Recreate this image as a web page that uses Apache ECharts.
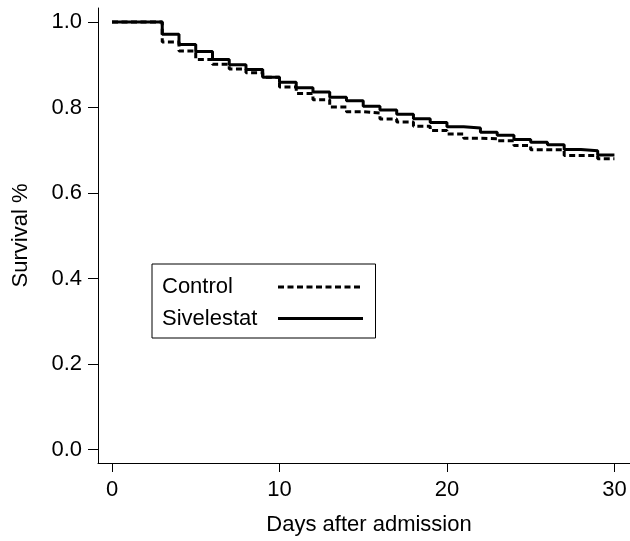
<!DOCTYPE html>
<html>
<head>
<meta charset="utf-8">
<script src="https://cdn.jsdelivr.net/npm/echarts@6/dist/echarts.min.js"></script>
<style>html,body{margin:0;padding:0;background:#fff}#c{width:630px;height:541px}</style>
</head>
<body>
<div id="c"></div>
<script>
var days = [0, 3, 4, 5, 6, 7, 8, 9, 10, 11, 12, 13, 14, 15, 16, 17, 18, 19, 20, 21, 22, 23, 24, 25, 26, 27, 28, 29, 30];
var sivelestat = [1.0, 0.971, 0.947, 0.931, 0.912, 0.900, 0.889, 0.871, 0.859, 0.846, 0.836, 0.824, 0.816, 0.803, 0.794, 0.784, 0.774, 0.765, 0.755, 0.752, 0.742, 0.735, 0.725, 0.719, 0.713, 0.702, 0.699, 0.689, 0.689];
var control = [1.0, 0.953, 0.932, 0.912, 0.901, 0.890, 0.881, 0.871, 0.848, 0.833, 0.818, 0.801, 0.790, 0.787, 0.773, 0.766, 0.756, 0.746, 0.738, 0.728, 0.727, 0.722, 0.711, 0.701, 0.701, 0.688, 0.688, 0.680, 0.680];
var xTicks = [0, 10, 20, 30];
var yTicks = [0.0, 0.2, 0.4, 0.6, 0.8, 1.0];

function pairs(v) { return days.map(function (d, i) { return [d, v[i]]; }); }

var FONT = 'Liberation Sans, Arial, sans-serif';
var FS = 22;
var chart = echarts.init(document.getElementById('c'), null, { renderer: 'canvas' });
chart.setOption({
  animation: false,
  backgroundColor: '#fff',
  grid: { left: 98, right: 0, top: 8, bottom: 77, containLabel: false },
  legend: {
    orient: 'vertical',
    left: 152, top: 264,
    align: 'right',
    borderColor: '#000', borderWidth: 1,
    padding: [12, 11, 8.5, 10],
    itemGap: 9.5,
    itemWidth: 85, itemHeight: 22,
    itemStyle: { opacity: 0 },
    lineStyle: { width: 3, color: '#000' },
    formatter: '{a|{name}}',
    textStyle: { fontFamily: FONT, fontSize: FS, color: '#000',
      rich: { a: { width: 111, fontFamily: FONT, fontSize: FS, color: '#000', align: 'left' } } },
    data: ['Control', 'Sivelestat']
  },
  xAxis: {
    type: 'value', min: -0.836, max: 30.93,
    name: 'Days after admission', nameLocation: 'middle', nameGap: 51,
    nameTextStyle: { fontFamily: FONT, fontSize: FS, color: '#000', padding: [0, 0, 0, 10] },
    axisLine: { show: true, onZero: false, lineStyle: { color: '#000', width: 1 } },
    axisTick: { show: true, length: 9, lineStyle: { color: '#000' }, customValues: xTicks },
    axisLabel: { fontFamily: FONT, fontSize: FS, color: '#000', margin: 16, customValues: xTicks,
      formatter: function (v) { return String(v); } },
    splitLine: { show: false }
  },
  yAxis: {
    type: 'value', min: -0.031, max: 1.0326,
    name: 'Survival %', nameLocation: 'middle', nameGap: 66,
    nameTextStyle: { fontFamily: FONT, fontSize: FS, color: '#000' },
    axisLine: { show: true, onZero: false, lineStyle: { color: '#000', width: 1 } },
    axisTick: { show: true, length: 10, lineStyle: { color: '#000' }, customValues: yTicks },
    axisLabel: { fontFamily: FONT, fontSize: FS, color: '#000', margin: 16, customValues: yTicks,
      formatter: function (v) { return v.toFixed(1); } },
    splitLine: { show: false }
  },
  series: [
    { name: 'Control', type: 'line', step: 'end', symbol: 'none', data: pairs(control),
      lineStyle: { color: '#000', width: 3, type: [6, 3.5] }, itemStyle: { color: '#000', opacity: 0 }, z: 2 },
    { name: 'Sivelestat', type: 'line', step: 'end', symbol: 'none', data: pairs(sivelestat),
      lineStyle: { color: '#000', width: 3, type: 'solid' }, itemStyle: { color: '#000', opacity: 0 }, z: 3 }
  ]
});
</script>
</body>
</html>
